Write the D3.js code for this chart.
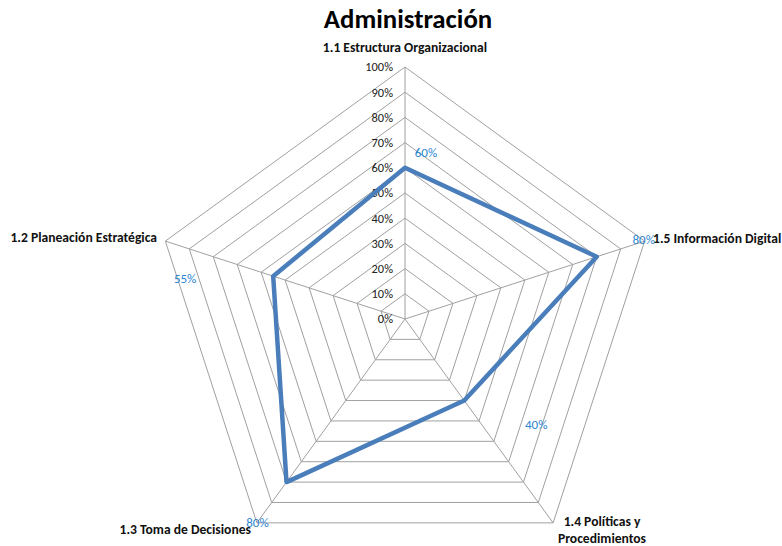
<!DOCTYPE html>
<html>
<head>
<meta charset="utf-8">
<script src="https://cdn.jsdelivr.net/npm/d3@7"></script>
<style>
  html, body { margin: 0; padding: 0; background: #fff; }
  svg { display: block; font-family: Carlito, Calibri, Lato, "Open Sans", sans-serif; }
</style>
</head>
<body>
<svg id="chart" width="782" height="546"></svg>
<script>
// Series data
const title = "Administración";
const categories = [
  "1.1 Estructura Organizacional",
  "1.2 Planeación Estratégica",
  "1.3 Toma de Decisiones",
  "1.4 Políticas y Procedimientos",
  "1.5 Información Digital"
];
const values = [0.60, 0.55, 0.80, 0.40, 0.80];
const valueLabels = ["60%", "55%", "80%", "40%", "80%"];
const tickValues = [0, 0.1, 0.2, 0.3, 0.4, 0.5, 0.6, 0.7, 0.8, 0.9, 1.0];
const tickLabels = ["0%", "10%", "20%", "30%", "40%", "50%", "60%", "70%", "80%", "90%", "100%"];

// Layout
const cx = 405, cy = 319, R = 252;
const gridColor = "#a0a0a0";
const lineColor = "#4a7ebb";
const labelBlue = "#2e86d0";

// data-label nudges relative to each vertex (dx, dy)
const labelNudge = [[21, -15], [-88, 2], [-29, 40], [72, 24], [47, -17]];

const svg = d3.select("#chart");
const n = categories.length;

const r = d3.scaleLinear().domain([0, 1]).range([0, R]);
// categories run counter-clockwise from the top
const angle = d3.scaleLinear().domain([0, n]).range([0, -2 * Math.PI]);

const pt = (i, v) => [cx + r(v) * Math.sin(angle(i)), cy - r(v) * Math.cos(angle(i))];

const g = svg.append("g");

// concentric grid pentagons
const ringLevels = tickValues.filter(t => t > 0);
g.selectAll("polygon.ring")
  .data(ringLevels)
  .join("polygon")
  .attr("class", "ring")
  .attr("points", t => d3.range(n).map(i => pt(i, t).join(",")).join(" "))
  .attr("fill", "none")
  .attr("stroke", gridColor)
  .attr("stroke-width", 1);

// spokes
g.selectAll("line.spoke")
  .data(d3.range(n))
  .join("line")
  .attr("class", "spoke")
  .attr("x1", cx).attr("y1", cy)
  .attr("x2", i => pt(i, 1)[0])
  .attr("y2", i => pt(i, 1)[1])
  .attr("stroke", gridColor)
  .attr("stroke-width", 1);

// radial tick labels
g.selectAll("text.tick")
  .data(tickValues)
  .join("text")
  .attr("class", "tick")
  .attr("x", cx - 12)
  .attr("y", t => cy - r(t))
  .attr("dy", "0.35em")
  .attr("text-anchor", "end")
  .attr("font-size", 12.4)
  .attr("fill", "#222")
  .text((t, i) => tickLabels[i]);

// series line
g.append("path")
  .datum(values)
  .attr("transform", `translate(${cx},${cy})`)
  .attr("d", d3.lineRadial()
    .angle((d, i) => angle(i))
    .radius(d => r(d))
    .curve(d3.curveLinearClosed))
  .attr("fill", "none")
  .attr("stroke", lineColor)
  .attr("stroke-width", 4.5)
  .attr("stroke-linejoin", "round");

// data labels
g.selectAll("text.val")
  .data(values)
  .join("text")
  .attr("class", "val")
  .attr("x", (v, i) => pt(i, v)[0] + labelNudge[i][0])
  .attr("y", (v, i) => pt(i, v)[1] + labelNudge[i][1])
  .attr("dy", "0.35em")
  .attr("text-anchor", "middle")
  .attr("font-size", 13)
  .attr("fill", labelBlue)
  .text((v, i) => valueLabels[i]);

// category labels
const catStyle = sel => sel.attr("font-size", 13.6).attr("font-weight", "bold").attr("fill", "#111");

catStyle(g.append("text").attr("x", cx).attr("y", 52).attr("text-anchor", "middle").text(categories[0]));
catStyle(g.append("text").attr("x", 157).attr("y", 242).attr("text-anchor", "end").text(categories[1]));
catStyle(g.append("text").attr("x", 251).attr("y", 534).attr("text-anchor", "end").text(categories[2]));
const l4 = g.append("text").attr("x", 602).attr("y", 526).attr("text-anchor", "middle");
catStyle(l4);
l4.append("tspan").attr("x", 602).text("1.4 Políticas y");
l4.append("tspan").attr("x", 602).attr("dy", 17).text("Procedimientos");
catStyle(g.append("text").attr("x", 653).attr("y", 243).attr("text-anchor", "start").text(categories[4]));

// title
svg.append("text")
  .attr("x", 408).attr("y", 28)
  .attr("text-anchor", "middle")
  .attr("font-size", 26.8)
  .attr("font-weight", "bold")
  .attr("fill", "#000")
  .text(title);
</script>
</body>
</html>
